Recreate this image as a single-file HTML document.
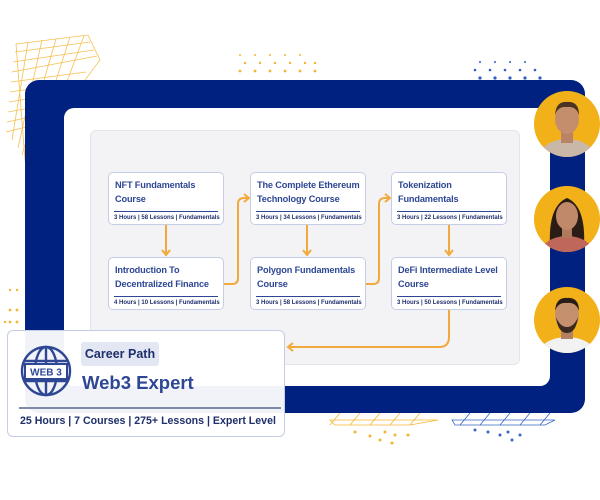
<!DOCTYPE html>
<html><head><meta charset="utf-8"><style>
*{margin:0;padding:0;box-sizing:border-box}
body{width:600px;height:500px;background:#fff;position:relative;overflow:hidden;font-family:"Liberation Sans",sans-serif}
.abs{position:absolute}
.frame{left:25px;top:80px;width:560px;height:333px;background:#00217f;border-radius:14px}
.inner{left:64px;top:108px;width:486px;height:278px;background:#fff;border-radius:10px}
.panel{left:90px;top:130px;width:430px;height:235px;background:#f3f3f5;border:1px solid #e3e5ec;border-radius:6px}
.box{width:116px;height:53px;background:#fff;border:1px solid #c5cde6;border-radius:5px}
.box .t{position:absolute;left:6px;top:6px;font-size:9.2px;font-weight:bold;color:#2e4795;line-height:13.5px;letter-spacing:-0.15px;white-space:nowrap}
.box .l{position:absolute;left:5px;right:5px;top:38px;height:1px;background:#2e4795}
.box .m{position:absolute;left:5px;top:41.5px;font-size:6px;font-weight:bold;color:#1f2f6b;white-space:nowrap}
.card{left:7px;top:330px;width:278px;height:107px;background:rgba(255,255,255,0.95);border:1px solid #c5cde6;border-radius:6px}
.av{width:66px;height:66px;border-radius:50%;background:#f2b019;overflow:hidden}
</style></head><body>
<svg class="abs" style="left:0;top:0" width="600" height="500">
<g stroke="#f5b533" stroke-width="0.8" fill="none" opacity="0.85">
<path d="M16,44 L88,35 L100,60 L25,160 Z"/>
<path d="M15,52 L90,42 M13,62 L94,50 M12,72 L97,56 M11,82 L86,72 M10,92 L78,82 M9,102 L70,92 M8,112 L62,102 M7,122 L54,112 M6,132 L46,122"/>
<path d="M28,42 L12,140 M42,40 L18,148 M56,39 L22,155 M70,37 L40,130 M84,36 L60,100"/>
</g>
<g fill="#f5b533">
<circle cx="240" cy="55" r="1"/><circle cx="255" cy="55" r="1"/><circle cx="270" cy="55" r="1"/><circle cx="285" cy="55" r="1"/><circle cx="300" cy="55" r="1"/>
<circle cx="245" cy="63" r="1.2"/><circle cx="260" cy="63" r="1.2"/><circle cx="275" cy="63" r="1.2"/><circle cx="290" cy="63" r="1.2"/><circle cx="305" cy="63" r="1.2"/><circle cx="315" cy="63" r="1.2"/>
<circle cx="240" cy="71" r="1.4"/><circle cx="255" cy="71" r="1.4"/><circle cx="270" cy="71" r="1.4"/><circle cx="285" cy="71" r="1.4"/><circle cx="300" cy="71" r="1.4"/><circle cx="315" cy="71" r="1.4"/>
<circle cx="10" cy="290" r="1.2"/><circle cx="17" cy="290" r="1.2"/><circle cx="10" cy="310" r="1.4"/><circle cx="17" cy="310" r="1.4"/><circle cx="10" cy="322" r="1.4"/><circle cx="17" cy="322" r="1.4"/><circle cx="5" cy="322" r="1.2"/>
</g>
<g fill="#2f5fc4">
<circle cx="480" cy="62" r="1"/><circle cx="495" cy="62" r="1"/><circle cx="510" cy="62" r="1"/><circle cx="525" cy="62" r="1"/>
<circle cx="475" cy="70" r="1.3"/><circle cx="490" cy="70" r="1.3"/><circle cx="505" cy="70" r="1.3"/><circle cx="520" cy="70" r="1.3"/><circle cx="535" cy="70" r="1.3"/>
<circle cx="480" cy="78" r="1.6"/><circle cx="495" cy="78" r="1.6"/><circle cx="510" cy="78" r="1.6"/><circle cx="525" cy="78" r="1.6"/><circle cx="540" cy="78" r="1.6"/>
<circle cx="535" cy="86" r="1.8"/><circle cx="545" cy="86" r="1.8"/>
</g>
<g stroke="#f5b533" stroke-width="0.8" fill="none">
<path d="M330,420 L438,420 L410,425 L335,425 Z M340,413 L330,425 M360,413 L350,425 M380,413 L370,425 M400,413 L390,425 M420,413 L410,425"/>
</g>
<g fill="#f5b533"><circle cx="355" cy="432" r="1.5"/><circle cx="370" cy="436" r="1.5"/><circle cx="385" cy="432" r="1.5"/><circle cx="380" cy="440" r="1.5"/><circle cx="395" cy="435" r="1.5"/><circle cx="392" cy="443" r="1.5"/><circle cx="408" cy="435" r="1.5"/></g>
<g stroke="#3a66c8" stroke-width="0.8" fill="none">
<path d="M452,420 L555,420 L545,425 L455,425 Z M470,413 L460,425 M490,413 L480,425 M510,413 L500,425 M530,413 L520,425 M550,413 L540,425"/>
</g>
<g fill="#3a66c8"><circle cx="475" cy="430" r="1.5"/><circle cx="488" cy="432" r="1.5"/><circle cx="500" cy="435" r="1.5"/><circle cx="508" cy="432" r="1.5"/><circle cx="520" cy="435" r="1.5"/><circle cx="512" cy="440" r="1.5"/></g>
</svg>
<div class="abs frame"></div>
<div class="abs inner"></div>
<div class="abs panel"></div>
<svg class="abs" style="left:0;top:0" width="600" height="500">
<g stroke="#f2a93b" stroke-width="2" fill="none">
<path d="M166,225 L166,253"/><path d="M307,225 L307,253"/><path d="M449,225 L449,253"/>
<path d="M224,284 L232,284 Q238,284 238,278 L238,204 Q238,198 244,198 L248,198"/>
<path d="M365,284 L373,284 Q379,284 379,278 L379,204 Q379,198 385,198 L389,198"/>
<path d="M449,310 L449,337 Q449,347 439,347 L290,347"/>
</g>
<g fill="none" stroke="#f2a93b" stroke-width="2">
<path d="M162,250 L166,255 L170,250"/><path d="M303,250 L307,255 L311,250"/><path d="M445,250 L449,255 L453,250"/>
<path d="M244,194 L249,198 L244,202"/><path d="M385,194 L390,198 L385,202"/>
<path d="M293,343 L288,347 L293,351"/>
</g>
</svg>
<div class="abs box" style="left:108px;top:172px"><div class="t">NFT Fundamentals<br>Course</div><div class="l"></div><div class="m">3 Hours | 58 Lessons | Fundamentals</div></div>
<div class="abs box" style="left:250px;top:172px"><div class="t">The Complete Ethereum<br>Technology Course</div><div class="l"></div><div class="m">3 Hours | 34 Lessons | Fundamentals</div></div>
<div class="abs box" style="left:391px;top:172px"><div class="t">Tokenization<br>Fundamentals</div><div class="l"></div><div class="m">3 Hours | 22 Lessons | Fundamentals</div></div>
<div class="abs box" style="left:108px;top:257px"><div class="t">Introduction To<br>Decentralized Finance</div><div class="l"></div><div class="m">4 Hours | 10 Lessons | Fundamentals</div></div>
<div class="abs box" style="left:250px;top:257px"><div class="t">Polygon Fundamentals<br>Course</div><div class="l"></div><div class="m">3 Hours | 58 Lessons | Fundamentals</div></div>
<div class="abs box" style="left:391px;top:257px"><div class="t">DeFi Intermediate Level<br>Course</div><div class="l"></div><div class="m">3 Hours | 50 Lessons | Fundamentals</div></div>

<div class="abs card">
<svg class="abs" style="left:10px;top:12px" width="56" height="56">
<g stroke="#2e4795" stroke-width="2.4" fill="none">
<circle cx="28" cy="28" r="24"/><ellipse cx="28" cy="28" rx="11" ry="24"/><path d="M28,4 L28,52 M6,18 L50,18 M6,38 L50,38"/>
</g>
<rect x="7" y="21" width="42" height="15" fill="#fff" stroke="#2e4795" stroke-width="2"/>
<text x="28" y="32.5" text-anchor="middle" font-family="Liberation Sans" font-weight="bold" font-size="10" fill="#2e4795">WEB 3</text>
</svg>
<div class="abs" style="left:73px;top:11px;width:78px;height:24px;background:#e2e7f3;border-radius:3px;font-size:12.5px;font-weight:bold;color:#1f2f6b;line-height:24px;text-align:center">Career Path</div>
<div class="abs" style="left:74px;top:41px;font-size:18.5px;font-weight:bold;color:#2e4795">Web3 Expert</div>
<div class="abs" style="left:11px;top:76px;width:262px;height:2px;background:#7d8aaa"></div>
<div class="abs" style="left:12px;top:84px;font-size:10.6px;font-weight:bold;color:#1f2f6b;white-space:nowrap">25 Hours | 7 Courses | 275+ Lessons | Expert Level</div>
</div>

<div class="abs av" style="left:534px;top:91px"><svg width="66" height="66"><ellipse cx="33" cy="70" rx="30" ry="22" fill="#c9b7a8"/><rect x="27" y="38" width="12" height="14" fill="#b98466"/><ellipse cx="33" cy="28" rx="12" ry="15" fill="#c48d6c"/><path d="M21,24 Q22,10 33,11 Q45,10 45,24 Q42,15 33,16 Q24,15 21,24Z" fill="#4a3224"/></svg></div>
<div class="abs av" style="left:534px;top:186px"><svg width="66" height="66"><path d="M16,60 Q14,20 33,12 Q52,20 50,60Z" fill="#2c1c16"/><ellipse cx="33" cy="70" rx="28" ry="20" fill="#c0675c"/><rect x="28" y="40" width="10" height="12" fill="#b07a5d"/><ellipse cx="33" cy="30" rx="11" ry="14" fill="#c08a6a"/></svg></div>
<div class="abs av" style="left:534px;top:287px"><svg width="66" height="66"><ellipse cx="33" cy="70" rx="30" ry="20" fill="#f2f2f2"/><rect x="27" y="40" width="12" height="12" fill="#b48062"/><ellipse cx="33" cy="28" rx="12" ry="15" fill="#c4906e"/><path d="M22,30 Q24,46 33,46 Q42,46 44,30 Q40,40 33,40 Q26,40 22,30Z" fill="#3a2a22"/><path d="M21,24 Q22,10 33,11 Q45,10 45,24 Q42,15 33,16 Q24,15 21,24Z" fill="#2a1c16"/></svg></div>
</body></html>
